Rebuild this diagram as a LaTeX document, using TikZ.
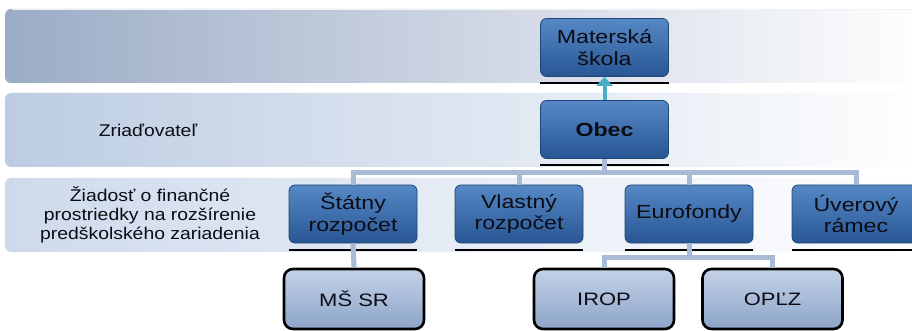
\documentclass[tikz,border=0pt]{standalone}
\usepackage{fontspec}
\setmainfont{Liberation Sans}
\newfontfamily\wf{Liberation Sans}[FakeStretch=1.22]
\newfontfamily\lf{Liberation Sans}[FakeStretch=1.14]
\usetikzlibrary{calc,arrows.meta}
\definecolor{bandA}{RGB}{156,172,198}
\definecolor{bandB}{RGB}{188,204,226}
\definecolor{bandC}{RGB}{206,218,236}
\definecolor{boxtop}{RGB}{86,136,198}
\definecolor{boxbot}{RGB}{40,86,148}
\definecolor{lbtop}{RGB}{196,210,232}
\definecolor{lbbot}{RGB}{140,164,200}
\definecolor{connc}{RGB}{168,186,214}
\definecolor{arrc}{RGB}{75,172,198}
\definecolor{txt}{RGB}{12,12,20}
\begin{document}
\begin{tikzpicture}[x=1pt,y=-1pt,
  band/.style={rounded corners=6pt, right color=white},
  bluebox/.style={rectangle, rounded corners=6pt, top color=boxtop, bottom color=boxbot,
    draw=boxbot!80!black, line width=0.8pt, minimum width=128pt, minimum height=58pt,
    inner sep=0pt, align=center, text=txt, font=\wf\fontsize{19}{21.5}\selectfont},
  lightbox/.style={rectangle, rounded corners=9pt, top color=lbtop, bottom color=lbbot,
    draw=black, line width=2.6pt, minimum width=140pt, minimum height=60pt,
    inner sep=0pt, align=center, text=txt, font=\wf\fontsize{18}{20}\selectfont},
  conn/.style={draw=connc, line width=5pt},
  shline/.style={draw=black, line width=2.2pt},
  lbl/.style={align=center, text=txt, inner sep=0pt}]
\useasboundingbox (0,0) rectangle (912,331);
\fill[white] (0,0) rectangle (912,331);
% bands
\shade[band, left color=bandA] (5,9) rectangle (930,83);
\shade[band, left color=bandB] (5,93) rectangle (930,167);
\shade[band, left color=bandC] (5,178) rectangle (930,252);
\draw[white!85!bandA, line width=0.8pt] (12,9.5) -- (912,9.5);
% labels
\node[lbl, font=\lf\fontsize{17}{19}\selectfont] (zr) at (148,130) {Zriaďovateľ};
\node[lbl, font=\lf\fontsize{17}{19}\selectfont] (zi) at (150,215) {Žiadosť o finančné\\prostriedky na rozšírenie\\predškolského zariadenia};
% nodes
\node[bluebox] (ms) at (604.5,47.5) {Materská\\škola};
\node[bluebox, font=\wf\bfseries\fontsize{19}{21.5}\selectfont] (obec) at (604.5,129.5) {Obec};
\node[bluebox] (st) at (353,214) {Štátny\\rozpočet};
\node[bluebox] (vl) at (519,214) {Vlastný\\rozpočet};
\node[bluebox] (eu) at (689,214) {Eurofondy};
\node[bluebox] (uv) at (856,214) {Úverový\\rámec};
\node[lightbox] (mssr) at (354,299) {MŠ SR};
\node[lightbox] (irop) at (604,299) {IROP};
\node[lightbox] (oplz) at (772.5,299) {OPĽZ};
% shadow lines under boxes
\foreach \n in {ms,obec,st,vl,eu,uv}{
  \draw[shline] ($(\n.south west)+(0,6.5)$) -- ($(\n.south east)+(0,6.5)$);
}
% connectors
\coordinate (bus) at (0,173);
\coordinate (sub) at (0,257);
\draw[conn] (obec.south) -- (obec.south |- bus);
\draw[conn] (st.north) -- (st.north |- bus) -| (uv.north);
\draw[conn] (vl.north) -- (vl.north |- bus);
\draw[conn] (eu.north) -- (eu.north |- bus);
\draw[conn] (st.south) -- (mssr.north);
\draw[conn] (eu.south) -- (eu.south |- sub);
\draw[conn] (irop.north) -- (irop.north |- sub) -| (oplz.north);
\draw[draw=arrc, line width=4pt, -{Triangle[width=16pt,length=9pt]}] (obec.north) -- (ms.south);
\end{tikzpicture}
\end{document}
